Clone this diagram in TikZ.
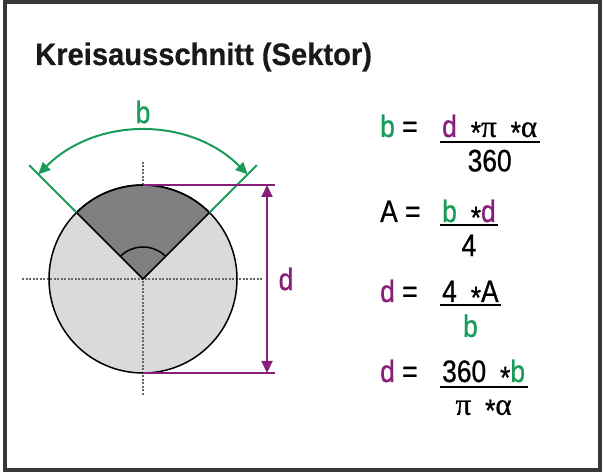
\documentclass[tikz,border=0pt]{standalone}
\usepackage{fontspec}
\setmainfont{Liberation Sans}[FakeStretch=0.85,FakeBold=0.8]
\newfontfamily\titlefont{Liberation Sans}[FakeStretch=0.94,BoldFeatures={FakeBold=0.5}]
\newfontfamily\grkfont{Liberation Serif}[FakeBold=0.8]
\usetikzlibrary{arrows.meta,positioning}
\definecolor{bgreen}{RGB}{25,155,90}
\definecolor{dpurple}{RGB}{135,30,120}
\definecolor{framegray}{RGB}{55,55,55}
\definecolor{discgray}{RGB}{218,218,218}
\definecolor{sectgray}{RGB}{128,128,128}
\newcommand{\mul}{\hspace{0.45em}\raisebox{-0.2em}[0.52em][0pt]{*}}
\newcommand{\gpi}{{\grkfont π}}
\newcommand{\galpha}{{\grkfont α}}
\newcommand{\cb}{\textcolor{bgreen}{b}}
\newcommand{\cd}{\textcolor{dpurple}{d}}

\begin{document}
\begin{tikzpicture}[x=1bp,y=1bp,
  txt/.style={inner sep=0pt, font=\fontsize{31bp}{36bp}\selectfont},
  eq/.style={txt, anchor=base west},
  den/.style={txt, below=12bp of #1},
  fracbar/.style={line width=2bp},
  dots/.style={line width=2.5bp, gray!80!black, dash pattern=on 2bp off 1.5bp},
  greenline/.style={bgreen, line width=2bp},
  dimline/.style={dpurple, line width=2bp},
  tips/.style={{Triangle[length=12bp,width=11bp]}-{Triangle[length=12bp,width=11bp]}}]
\useasboundingbox (0,0) rectangle (605,472);
\draw[framegray, line width=4bp] (5,2) rectangle (600,470);

\node[eq, font=\titlefont\bfseries\fontsize{31bp}{36bp}\selectfont, text=black!90] (title) at (35,407) {Kreisausschnitt (Sektor)};

% circle with sector
\coordinate (M) at (143,193);
\fill[discgray] (M) circle (94);
\draw[dots] (143,310) -- (143,77);
\draw[dots] (22,193) -- (262,193);
\filldraw[fill=sectgray, line width=1.5bp] (M) -- ++(45:94) arc (45:135:94) -- cycle;
\draw[line width=1.5bp] (M) ++(45:32) arc (45:135:32);
\draw[line width=1.5bp] (M) circle (94);

% arc length b
\draw[greenline] (M) ++(45:94) -- ++(45:67);
\draw[greenline] (M) ++(135:94) -- ++(135:67);
\draw[greenline, tips] (M) ++(45:148) arc (45:135:148);
\node[txt, text=bgreen] (b) at (143,360) {b};

% diameter d
\coordinate (t1) at (143,287);
\coordinate (t2) at (275,287);
\coordinate (u1) at (143,99);
\coordinate (u2) at (275,99);
\coordinate (a1) at (267,287);
\coordinate (a2) at (267,99);
\draw[dimline] (t1) -- (t2);
\draw[dimline] (u1) -- (u2);
\draw[dimline, tips] (a1) -- (a2);
\node[txt, text=dpurple] (d) at (286,193) {d};

% formulas
\node[eq] (l1) at (380,335) {\cb{} =};
\node[eq] (n1) at (442,335) {\cd\mul\gpi\mul\galpha};
\node[den=n1] (z1) {360};
\draw[fracbar] ([xshift=-2bp,yshift=-5bp]n1.south west) -- ([xshift=3bp,yshift=-5bp]n1.south east);

\node[eq] (l2) at (380,250) {A =};
\node[eq] (n2) at (442,250) {\cb\mul\cd};
\node[den=n2] (z2) {4};
\draw[fracbar] ([xshift=-2bp,yshift=-3bp]n2.south west) -- ([xshift=2bp,yshift=-3bp]n2.south east);

\node[eq] (l3) at (380,170) {\cd{} =};
\node[eq] (n3) at (442,170) {4\mul A};
\node[den=n3] (z3) {\cb};
\draw[fracbar] ([xshift=-2bp,yshift=-3bp]n3.south west) -- ([xshift=2bp,yshift=-3bp]n3.south east);

\node[eq] (l4) at (380,90) {\cd{} =};
\node[eq] (n4) at (442,90) {360\mul\cb};
\node[den=n4, below=16bp of n4] (z4) {\gpi\mul\galpha};
\draw[fracbar] ([xshift=-2bp,yshift=-5bp]n4.south west) -- ([xshift=3bp,yshift=-5bp]n4.south east);
\end{tikzpicture}
\end{document}
